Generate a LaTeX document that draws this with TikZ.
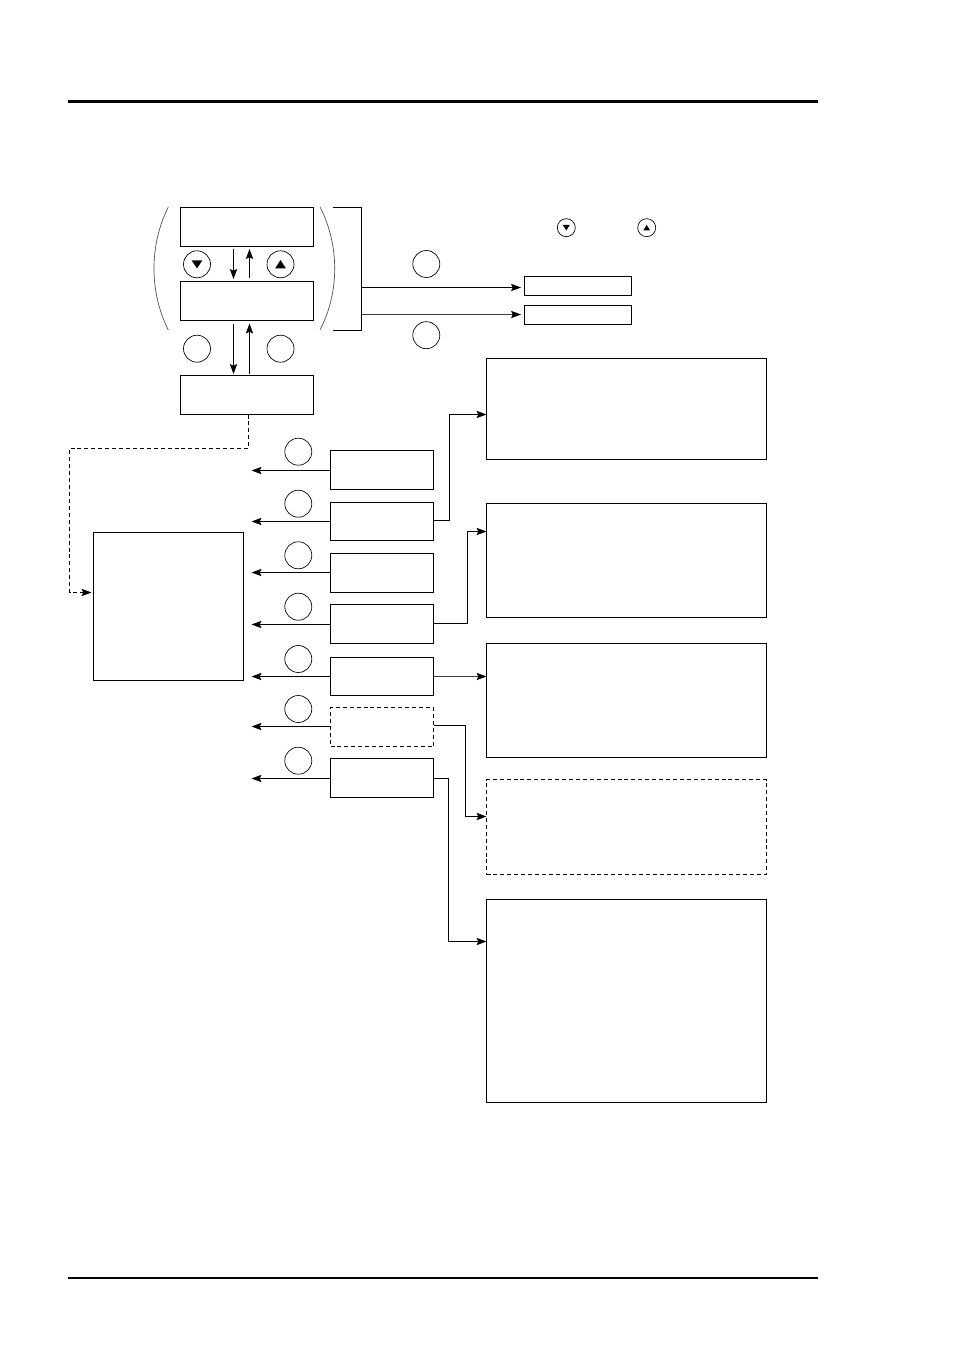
\documentclass[tikz,border=0pt]{standalone}
\usetikzlibrary{arrows.meta}
\tikzset{
  x=0.75pt,y=-0.75pt,
  pbox/.style n args={2}{draw,line width=0.75pt,rectangle,inner sep=0pt,outer sep=0pt,minimum width=#1*0.75pt,minimum height=#2*0.75pt},
  dbox/.style n args={2}{pbox={#1}{#2},dash pattern=on 3pt off 2.2pt},
  knob/.style={draw,line width=0.5pt,circle,inner sep=0pt,outer sep=0pt,minimum size=27*0.75pt},
  smallknob/.style={draw,line width=0.5pt,circle,inner sep=0pt,outer sep=0pt,minimum size=18*0.75pt},
  conn/.style={line width=0.75pt},
  arr/.style={conn,-{Stealth[length=7.4pt,width=5.4pt,inset=1.2pt,color=black]}},
  grayarr/.style={arr,line width=0.6pt,draw=black!75},
  darr/.style={arr,dash pattern=on 3pt off 2.2pt},
  hook/.style={line width=0.5pt,draw=black!70},
}
\begin{document}
\begin{tikzpicture}
\useasboundingbox (0,0) rectangle (954,1351);
\fill[white] (0,0) rectangle (954,1351);
% page rules
\coordinate (tl) at (68,101.5); \coordinate (tr) at (818,101.5);
\coordinate (bl) at (68,1278); \coordinate (br) at (818,1278);
\draw[line width=2.25pt] (tl) -- (tr);
\draw[line width=1.5pt] (bl) -- (br);
% upper stack
\node[pbox={133}{39}] (A) at (247,227) {};
\node[pbox={133}{39}] (B) at (247,301) {};
\node[pbox={133}{39}] (C) at (247,395) {};
\node[knob] (kd) at (197,264.3) {};
\node[knob] (ku) at (280.5,264.3) {};
\node[knob] (kl) at (197,348.7) {};
\node[knob] (kr) at (280.5,348.7) {};
\fill ([shift={(-5.4,-4)}]kd.center) -- ++(10.8,0) -- ++(-5.4,8.2) -- cycle;
\fill ([shift={(-5.4,4)}]ku.center) -- ++(10.8,0) -- ++(-5.4,-8.2) -- cycle;
% arrows between stack boxes
\coordinate (a1) at (233.5,249); \coordinate (a2) at (233.5,279);
\coordinate (a3) at (249.5,278); \coordinate (a4) at (249.5,249);
\coordinate (a5) at (233.5,324); \coordinate (a6) at (233.5,374);
\coordinate (a7) at (249.5,374); \coordinate (a8) at (249.5,323.5);
\draw[arr] (a1) -- (a2);
\draw[arr] (a3) -- (a4);
\draw[arr] (a5) -- (a6);
\draw[arr] (a7) -- (a8);
% parentheses
\draw[hook] (168.3,207) .. controls (149.2,245) and (149.2,292) .. (168.3,330);
\draw[hook] (320,207) .. controls (339.6,245) and (339.6,292) .. (320,330);
% bracket
\coordinate (bt) at (361.5,207.5); \coordinate (bb) at (361.5,330.5);
\coordinate (b1) at (361.5,287.5); \coordinate (b2) at (361.5,314.5);
\draw[conn] (332.5,207.5) -- (bt) -- (bb) -- (332.5,330.5);
% right small boxes
\node[pbox={107}{19}] (D) at (578,286) {};
\node[pbox={107}{19}] (E) at (578,315) {};
\coordinate (d1) at (521,287.5); \coordinate (e1) at (521,314.5);
\draw[arr] (b1) -- (d1);
\draw[grayarr] (b2) -- (e1);
\node[knob] (k1) at (426.3,264) {};
\node[knob] (k2) at (426.3,335.2) {};
\node[smallknob] (s1) at (566.3,227.7) {};
\node[smallknob] (s2) at (646.7,227.7) {};
\fill ([shift={(-3.5,-2.8)}]s1.center) -- ++(7,0) -- ++(-3.5,5.6) -- cycle;
\fill ([shift={(-3.5,2.8)}]s2.center) -- ++(7,0) -- ++(-3.5,-5.6) -- cycle;
% left box
\node[pbox={150}{148}] (L) at (168.5,606.5) {};
\coordinate (c0) at (248.5,414.5);
\coordinate (c1) at (248.5,448.5); \coordinate (c2) at (69.5,448.5);
\coordinate (c3) at (69.5,592.5); \coordinate (c4) at (91.5,592.5);
\draw[darr] (c0) -- (c1) -- (c2) -- (c3) -- (c4);
% row boxes
\node[pbox={103}{39}] (r1) at (382,470) {};
\node[pbox={103}{38}] (r2) at (382,521.5) {};
\node[pbox={103}{39}] (r3) at (382,573) {};
\node[pbox={103}{39}] (r4) at (382,624) {};
\node[pbox={103}{38}] (r5) at (382,676.5) {};
\node[dbox={103}{39}] (r6) at (382,727) {};
\node[pbox={103}{39}] (r7) at (382,778) {};
% row circles
\node[knob] (n1) at (298.3,451.7) {};
\node[knob] (n2) at (298.3,503.7) {};
\node[knob] (n3) at (298.3,555.3) {};
\node[knob] (n4) at (298.3,606.7) {};
\node[knob] (n5) at (298.3,659) {};
\node[knob] (n6) at (298.3,709) {};
\node[knob] (n7) at (298.3,760.7) {};
% row arrows
\coordinate (t1) at (251.5,470.5);
\coordinate (t2) at (251.5,521.5);
\coordinate (t3) at (251.5,572.5);
\coordinate (t4) at (251.5,624.5);
\coordinate (t5) at (251.5,676.5);
\coordinate (t6) at (251.5,726.5);
\coordinate (t7) at (251.5,778.5);
\draw[arr] (r1.west |- t1) -- (t1);
\draw[arr] (r2.west |- t2) -- (t2);
\draw[arr] (r3.west |- t3) -- (t3);
\draw[arr] (r4.west |- t4) -- (t4);
\draw[arr] (r5.west |- t5) -- (t5);
\draw[arr] (r6.west |- t6) -- (t6);
\draw[arr] (r7.west |- t7) -- (t7);
% right boxes
\node[pbox={280}{101}] (R1) at (626.5,409) {};
\node[pbox={280}{114}] (R2) at (626.5,560.5) {};
\node[pbox={280}{114}] (R3) at (626.5,700.5) {};
\node[dbox={280}{95}] (R4) at (626.5,827) {};
\node[pbox={280}{203}] (R5) at (626.5,1001) {};
% connectors to right boxes
\coordinate (j2a) at (449.5,520.5); \coordinate (j2b) at (449.5,414.5);
\draw[arr] (r2.east |- j2a) -- (j2a) -- (j2b) -- (R1.west |- j2b);
\coordinate (j4a) at (467.5,623.5); \coordinate (j4b) at (467.5,531.5);
\draw[arr] (r4.east |- j4a) -- (j4a) -- (j4b) -- (R2.west |- j4b);
\coordinate (j5) at (440,676.5);
\draw[grayarr] (r5.east |- j5) -- (R3.west |- j5);
\coordinate (j6a) at (465.5,725.5); \coordinate (j6b) at (465.5,816.5);
\draw[arr] (r6.east |- j6a) -- (j6a) -- (j6b) -- (R4.west |- j6b);
\coordinate (j7a) at (448.5,778.5); \coordinate (j7b) at (448.5,941.5);
\draw[arr] (r7.east |- j7a) -- (j7a) -- (j7b) -- (R5.west |- j7b);
\end{tikzpicture}
\end{document}
